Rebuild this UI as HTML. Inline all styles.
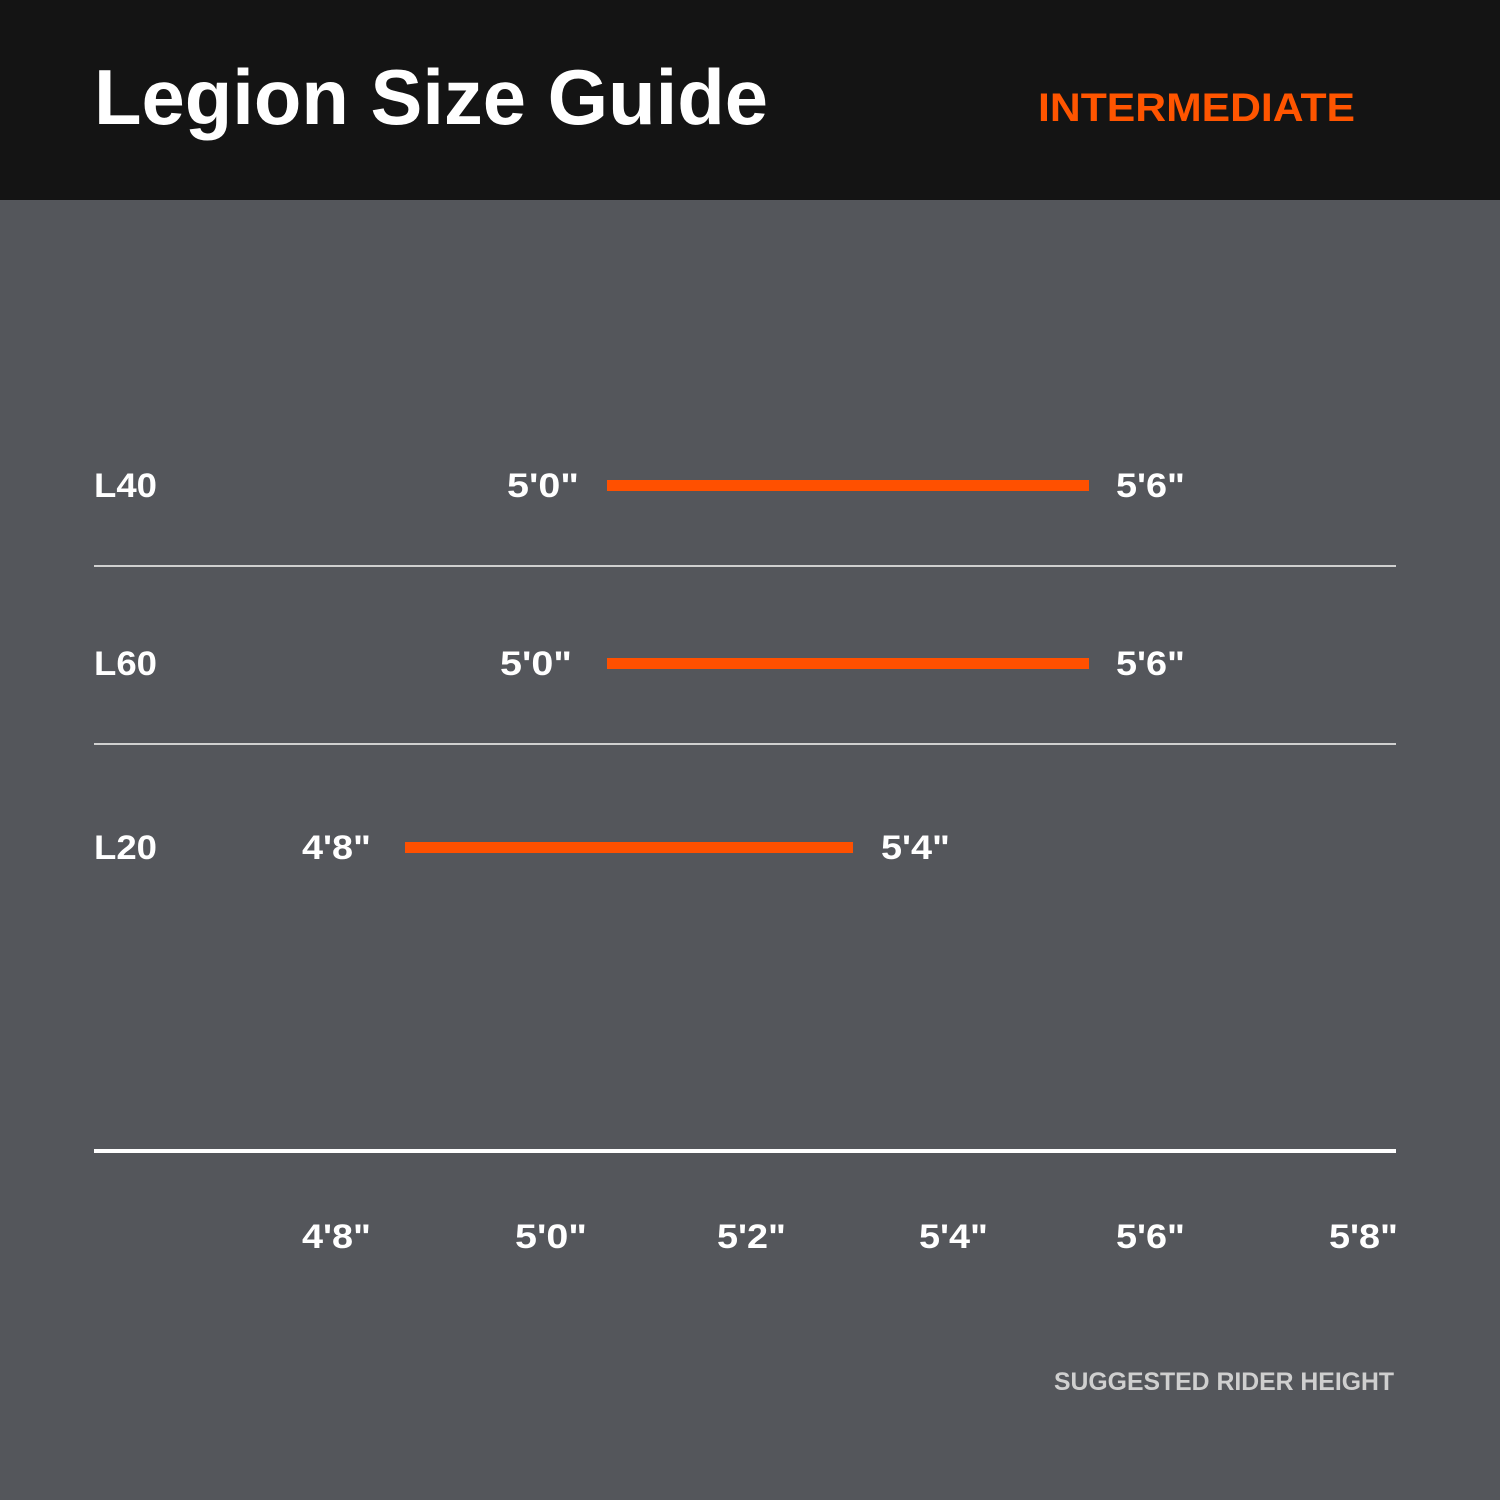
<!DOCTYPE html>
<html><head><style>
html,body{margin:0;padding:0;width:1500px;height:1500px;overflow:hidden;background:#54565b}
svg{display:block}
text{font-family:"Liberation Sans",sans-serif;font-weight:bold;fill:#fff}
</style></head><body>
<svg width="1500" height="1500" viewBox="0 0 1500 1500">
<rect x="0" y="0" width="1500" height="200" fill="#141414"/>
<rect x="0" y="200" width="1500" height="1300" fill="#54565b"/>
<text x="94" y="124" font-size="78" style="font-weight:600" textLength="674" lengthAdjust="spacingAndGlyphs">Legion Size Guide</text>
<text x="1038" y="121" font-size="40" style="fill:#ff5500" textLength="317" lengthAdjust="spacingAndGlyphs">INTERMEDIATE</text>

<g font-size="34" lengthAdjust="spacingAndGlyphs">
<text x="94" y="497" textLength="63" lengthAdjust="spacingAndGlyphs">L40</text>
<text x="507" y="497" textLength="72" lengthAdjust="spacingAndGlyphs">5'0"</text>
<text x="1116" y="497" textLength="69" lengthAdjust="spacingAndGlyphs">5'6"</text>
<text x="94" y="675" textLength="63" lengthAdjust="spacingAndGlyphs">L60</text>
<text x="500" y="675" textLength="72" lengthAdjust="spacingAndGlyphs">5'0"</text>
<text x="1116" y="675" textLength="69" lengthAdjust="spacingAndGlyphs">5'6"</text>
<text x="94" y="859" textLength="63" lengthAdjust="spacingAndGlyphs">L20</text>
<text x="302" y="859" textLength="69" lengthAdjust="spacingAndGlyphs">4'8"</text>
<text x="881" y="859" textLength="69" lengthAdjust="spacingAndGlyphs">5'4"</text>
</g>
<rect x="607" y="480" width="482" height="11" fill="#ff5000"/>
<rect x="607" y="658" width="482" height="11" fill="#ff5000"/>
<rect x="405" y="842" width="448" height="11" fill="#ff5000"/>
<rect x="94" y="565" width="1302" height="2" fill="#d0d0d0"/>
<rect x="94" y="743" width="1302" height="2" fill="#d0d0d0"/>
<rect x="94" y="1149" width="1302" height="4" fill="#ffffff"/>
<g font-size="34">
<text x="302" y="1248" textLength="69" lengthAdjust="spacingAndGlyphs">4'8"</text>
<text x="515" y="1248" textLength="72" lengthAdjust="spacingAndGlyphs">5'0"</text>
<text x="717" y="1248" textLength="69" lengthAdjust="spacingAndGlyphs">5'2"</text>
<text x="919" y="1248" textLength="69" lengthAdjust="spacingAndGlyphs">5'4"</text>
<text x="1116" y="1248" textLength="69" lengthAdjust="spacingAndGlyphs">5'6"</text>
<text x="1329" y="1248" textLength="69" lengthAdjust="spacingAndGlyphs">5'8"</text>
</g>
<text x="1054" y="1390" font-size="25" style="fill:#cfcfcf;font-weight:600" textLength="340" lengthAdjust="spacingAndGlyphs">SUGGESTED RIDER HEIGHT</text>
</svg>
</body></html>
